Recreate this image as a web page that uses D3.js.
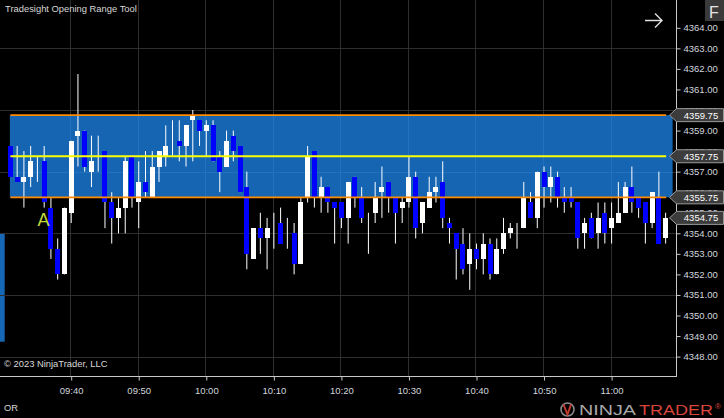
<!DOCTYPE html>
<html><head><meta charset="utf-8">
<script src="https://cdn.jsdelivr.net/npm/d3@7/dist/d3.min.js"></script>
<style>
html,body{margin:0;padding:0;background:#000;overflow:hidden}
svg{display:block}
text{font-family:Arial,"Liberation Sans",sans-serif}
</style>
</head><body>
<svg id="chart" width="724" height="418"></svg>
<script>
// ---------- data ----------
const title = "Tradesight Opening Range Tool";
const startTime = "09:31";
const opens = [4358.25,4356.75,4356.5,4356.75,4357.5,4357.5,4355.25,4353.25,4352.0,4355.0,
4358.75,4359.0,4357.0,4357.5,4358.0,4355.5,4354.75,4355.25,4357.75,4355.5,
4356.5,4355.75,4357.25,4357.75,4358.25,4358.5,4358.25,4359.5,4359.5,4359.0,
4359.25,4357.75,4357.25,4358.75,4358.25,4356.25,4352.75,4354.25,4353.75,4354.25,
4354.5,4353.75,4354.0,4352.5,4355.75,4358.0,4355.75,4356.25,4355.5,4355.5,
4354.75,4356.75,4355.75,4354.75,4355.0,4356.0,4356.5,4355.75,4355.25,4355.5,
4356.75,4354.5,4355.25,4356.0,4356.5,4354.5,4354.0,4353.5,4352.5,4353.25,
4352.75,4353.5,4352.0,4353.25,4354.0,4354.25,4354.25,4355.5,4354.75,4357.0,
4356.25,4356.75,4355.75,4355.75,4355.5,4354.0,4354.75,4354.0,4355.0,4354.25,
4354.5,4355.0,4356.25,4355.75,4355.5,4354.5,4355.75,4353.75];
const highs = [4358.25,4358.25,4358.0,4358.25,4357.75,4358.25,4355.75,4353.75,4355.25,4358.5,
4361.75,4359.0,4358.75,4358.75,4358.0,4356.0,4355.75,4357.75,4357.75,4357.5,
4358.0,4358.0,4358.0,4359.25,4359.5,4359.5,4359.25,4360.0,4359.5,4359.5,
4359.5,4358.0,4359.0,4359.0,4358.25,4357.0,4354.25,4355.0,4354.75,4355.0,
4355.25,4354.75,4354.5,4355.75,4358.25,4358.0,4356.75,4356.25,4355.5,4355.5,
4356.5,4356.75,4356.25,4355.0,4356.5,4357.25,4356.5,4355.75,4355.75,4357.75,
4357.0,4355.5,4356.75,4356.75,4357.5,4354.75,4354.0,4354.25,4354.0,4353.5,
4354.0,4353.75,4353.75,4354.75,4354.5,4354.5,4356.5,4356.0,4357.0,4357.25,
4357.25,4357.0,4356.25,4356.25,4355.5,4354.75,4355.0,4355.5,4355.5,4355.5,
4356.5,4356.5,4357.25,4355.75,4355.5,4356.0,4357.0,4355.0];
const lows = [4356.75,4356.5,4355.25,4356.25,4356.5,4355.25,4352.75,4351.75,4352.0,4354.5,
4357.25,4357.0,4356.25,4357.0,4354.25,4353.5,4354.0,4354.0,4355.25,4354.25,
4355.75,4355.75,4356.5,4357.25,4357.75,4357.5,4357.25,4357.5,4358.25,4357.75,
4357.5,4356.0,4357.25,4357.5,4356.0,4352.25,4352.75,4353.0,4352.25,4353.25,
4353.5,4353.25,4352.0,4352.5,4355.5,4355.25,4355.0,4355.0,4353.5,4354.25,
4353.5,4355.25,4354.5,4353.0,4354.5,4354.75,4355.0,4353.5,4354.5,4355.25,
4353.75,4354.0,4355.25,4355.5,4354.25,4353.5,4351.75,4352.0,4351.25,4352.25,
4352.0,4351.75,4352.0,4353.0,4353.75,4353.25,4354.25,4354.75,4354.25,4355.25,
4355.5,4355.25,4355.0,4355.25,4353.25,4353.25,4353.75,4353.25,4353.5,4353.5,
4354.5,4355.0,4355.0,4354.75,4353.5,4354.25,4353.5,4353.5];
const closes = [4356.75,4356.5,4356.75,4357.5,4357.5,4355.5,4353.25,4352.0,4355.25,4358.5,
4359.0,4357.25,4357.5,4357.5,4355.5,4354.75,4355.25,4357.5,4355.75,4356.5,
4356.0,4357.25,4358.0,4358.25,4358.25,4358.25,4359.25,4359.75,4359.0,4359.25,
4357.5,4357.0,4358.5,4358.0,4356.0,4353.0,4354.25,4353.75,4354.25,4354.25,
4353.5,4353.75,4352.5,4355.5,4357.75,4355.75,4356.25,4355.5,4355.25,4354.75,
4356.5,4355.75,4354.75,4354.75,4355.75,4356.25,4355.75,4355.0,4355.5,4356.75,
4354.25,4355.5,4356.0,4356.25,4354.75,4354.25,4353.25,4352.25,4353.25,4352.75,
4353.5,4352.0,4353.25,4354.0,4354.25,4354.25,4355.75,4354.75,4357.0,4356.25,
4356.75,4355.75,4355.5,4355.5,4353.75,4354.5,4353.75,4354.75,4354.0,4354.75,
4355.0,4356.25,4355.5,4355.25,4354.5,4356.0,4353.5,4354.75];
const rangeLevels = [4359.75, 4357.75, 4355.75]; // high, mid, low
const priceTicks = [4348,4349,4350,4351,4352,4353,4354,4355,4356,4357,4358,4359,4360,4361,4362,4363,4364];
const gridPrices = [4348,4351,4354,4357,4360,4363];
const timeTicks = ["09:40","09:50","10:00","10:10","10:20","10:30","10:40","10:50","11:00"];

// ---------- setup ----------
const svg = d3.select("#chart");
const W = 724, H = 418, plotRight = 676, plotBottom = 376;
const parse = d3.timeParse("%H:%M");
const t0 = parse(startTime);
const times = opens.map((_, i) => d3.timeMinute.offset(t0, i));
const bars = opens.map((o, i) => ({t: times[i], o, h: highs[i], l: lows[i], c: closes[i]}));

const x = d3.scaleTime().domain([times[0], times[times.length - 1]])
  .range([10.4, 10.4 + (times.length - 1) * 6.755]);
const y = d3.scaleLinear().domain([4348, 4364]).range([356.6, 27.8]);

svg.append("rect").attr("width", W).attr("height", H).attr("fill", "#000");

// left marker strip
svg.append("rect").attr("x", 0).attr("y", 233).attr("width", 4.7).attr("height", 108.7).attr("fill", "#1667b6");

// grid
const grid = svg.append("g").attr("stroke", "#2e2e2e").attr("stroke-width", 1);
grid.selectAll("line.h").data(gridPrices).join("line")
  .attr("x1", 0).attr("x2", plotRight)
  .attr("y1", d => Math.round(y(d)) + 0.5).attr("y2", d => Math.round(y(d)) + 0.5);
grid.selectAll("line.v").data(timeTicks.map(parse)).join("line")
  .attr("x1", d => Math.round(x(d)) - 0.5).attr("x2", d => Math.round(x(d)) - 0.5)
  .attr("y1", 0).attr("y2", plotBottom);

// opening range box
const xFirst = x(times[0]), xLast = x(times[times.length - 1]);
svg.append("rect")
  .attr("x", xFirst - 0.5).attr("y", y(rangeLevels[0]))
  .attr("width", xLast + 7.5 - xFirst).attr("height", y(rangeLevels[2]) - y(rangeLevels[0]))
  .attr("fill", "rgb(30,144,255)").attr("fill-opacity", 0.7);

// candles
const cg = svg.append("g");
cg.selectAll("line.wick").data(bars).join("line")
  .attr("x1", d => x(d.t)).attr("x2", d => x(d.t))
  .attr("y1", d => y(d.h)).attr("y2", d => y(d.l))
  .attr("stroke", "#ffffff").attr("stroke-width", 1);
cg.selectAll("rect.body").data(bars.filter(d => d.o !== d.c)).join("rect")
  .attr("x", d => Math.round(x(d.t) - 2.5)).attr("width", 5)
  .attr("y", d => Math.round(y(Math.max(d.o, d.c))))
  .attr("height", d => Math.max(1, Math.round(y(Math.min(d.o, d.c))) - Math.round(y(Math.max(d.o, d.c)))))
  .attr("fill", d => d.c > d.o ? "#ffffff" : "#0000ff");

// range lines
const lineColors = ["#ff8c00", "#ffff00", "#ff8c00"];
svg.selectAll("line.range").data(rangeLevels).join("line")
  .attr("x1", xFirst).attr("x2", xLast + 0.5)
  .attr("y1", d => y(d)).attr("y2", d => y(d))
  .attr("stroke", (d, i) => lineColors[i]).attr("stroke-width", (d, i) => i === 1 ? 2 : 1.6);

// "A" label
svg.append("text").attr("x", 43.5).attr("y", 225.5).attr("text-anchor", "middle")
  .attr("font-size", 18).attr("fill", "#c4d83c").text("A");

// axes lines
svg.append("line").attr("x1", plotRight + 0.5).attr("x2", plotRight + 0.5).attr("y1", 0).attr("y2", plotBottom + 1)
  .attr("stroke", "#c8c8c8");
svg.append("line").attr("x1", 0).attr("x2", plotRight + 1).attr("y1", plotBottom + 0.5).attr("y2", plotBottom + 0.5)
  .attr("stroke", "#c8c8c8");

const yAxis = d3.axisRight(y).tickValues(priceTicks).tickFormat(d3.format(".2f")).tickSize(4).tickPadding(3);
const gy = svg.append("g").attr("transform", `translate(${plotRight + 0.5},0)`).call(yAxis);
gy.select(".domain").remove();
gy.selectAll(".tick line").attr("stroke", "#c8c8c8");
gy.selectAll(".tick text").attr("fill", "#d2d6de").attr("font-size", 9.5)
  .attr("font-family", "Arial, 'Liberation Sans', sans-serif");

const xAxis = d3.axisBottom(x).tickValues(timeTicks.map(parse)).tickFormat(d3.timeFormat("%H:%M")).tickSize(4).tickPadding(7);
const gx = svg.append("g").attr("transform", `translate(0,${plotBottom + 0.5})`).call(xAxis);
gx.select(".domain").remove();
gx.selectAll(".tick line").attr("stroke", "#c8c8c8");
gx.selectAll(".tick text").attr("fill", "#d2d6de").attr("font-size", 9.5)
  .attr("font-family", "Arial, 'Liberation Sans', sans-serif");

// price flags
const flagValues = rangeLevels.concat([closes[closes.length - 1]]);
const flags = svg.selectAll("g.flag").data(flagValues).join("g")
  .attr("transform", d => `translate(0,${y(d)})`);
flags.append("path")
  .attr("d", "M669.5,0 L676.5,-6.5 L723.5,-6.5 L723.5,6.5 L676.5,6.5 Z")
  .attr("fill", "#3c3c3c").attr("stroke", "#9a9a9a").attr("stroke-width", 1);
flags.append("text").attr("x", 701).attr("y", 3.4).attr("text-anchor", "middle")
  .attr("font-size", 9.5).attr("fill", "#ffffff").text(d => d3.format(".2f")(d));

// texts
svg.append("text").attr("x", 5).attr("y", 11.7).attr("font-size", 9.4).attr("fill", "#d8d8d8").text(title);
svg.append("text").attr("x", 4).attr("y", 367.3).attr("font-size", 9.4).attr("fill", "#d8d8d8").text("© 2023 NinjaTrader, LLC");
svg.append("text").attr("x", 4).attr("y", 411).attr("font-size", 9.4).attr("fill", "#d8d8d8").text("OR");

// F button
svg.append("rect").attr("x", 705).attr("y", 0).attr("width", 19).attr("height", 21).attr("fill", "#3a3a3a");
svg.append("text").attr("x", 714).attr("y", 18).attr("text-anchor", "middle").attr("font-size", 16)
  .attr("fill", "#e6e6e6").text("F");

// arrow
svg.append("path").attr("d", "M645,20.5 L662,20.5 M655,13.5 L662,20.5 L655,27.5")
  .attr("fill", "none").attr("stroke", "#e0e0e0").attr("stroke-width", 1.4);

// logo
const logo = svg.append("g");
logo.append("circle").attr("cx", 567.5).attr("cy", 409.5).attr("r", 6.5)
  .attr("fill", "none").attr("stroke", "#8a8a8a").attr("stroke-width", 1.6);
logo.append("path").attr("d", "M563.5,404.5 L567.5,414.5 L571,404.5")
  .attr("fill", "none").attr("stroke", "#c0392b").attr("stroke-width", 2);
logo.append("text").attr("x", 579).attr("y", 415).attr("font-size", 15).attr("font-family", "Lato, Arial, sans-serif")
  .attr("font-weight", 300).attr("fill", "#a8a8a8").attr("textLength", 57).attr("lengthAdjust", "spacingAndGlyphs").text("NINJA");
logo.append("text").attr("x", 639).attr("y", 415).attr("font-size", 15).attr("font-family", "Lato, Arial, sans-serif")
  .attr("font-weight", 400).attr("fill", "#d9453b").attr("textLength", 74).attr("lengthAdjust", "spacingAndGlyphs").text("TRADER");
logo.append("text").attr("x", 715).attr("y", 409).attr("font-size", 8).attr("fill", "#d9453b").text("®");
</script>
</body></html>
